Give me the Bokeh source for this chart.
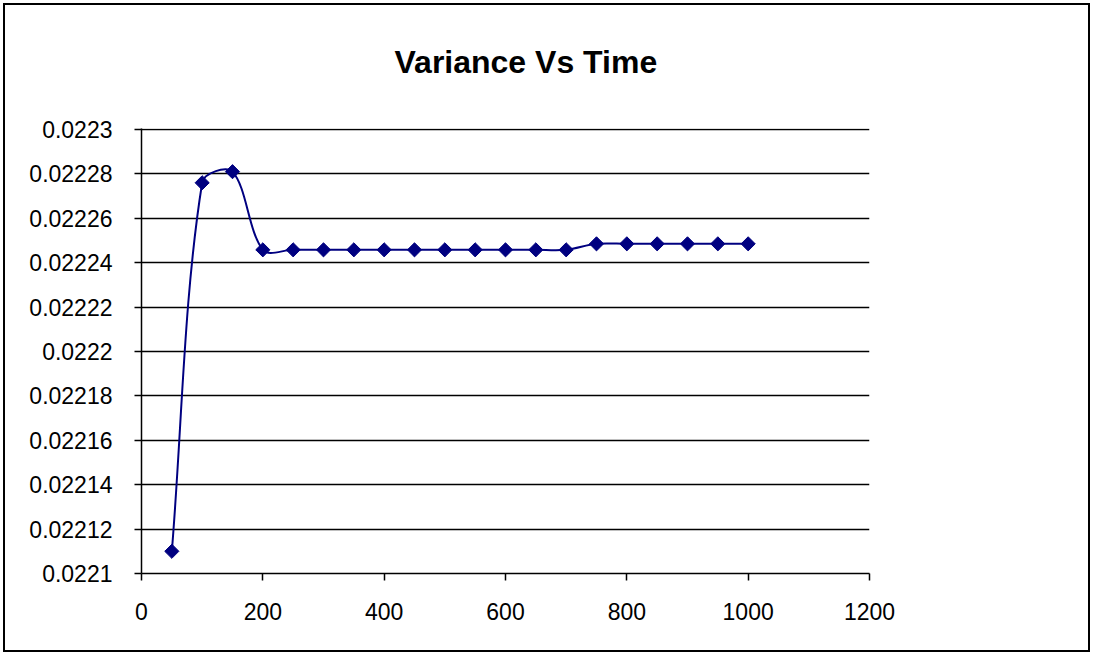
import numpy as np
from bokeh.plotting import figure
from bokeh.models import FixedTicker, Range1d
from bokeh.embed import file_html
from bokeh.resources import INLINE

# Simulation output: variance of the estimate at each time step
time_steps = [50, 100, 150, 200, 250, 300, 350, 400, 450, 500,
              550, 600, 650, 700, 750, 800, 850, 900, 950, 1000]
variance = [0.02211, 0.022276, 0.022281, 0.0222458, 0.0222458, 0.0222458,
            0.0222458, 0.0222458, 0.0222458, 0.0222458, 0.0222458, 0.0222458,
            0.0222458, 0.0222458, 0.0222485, 0.0222485, 0.0222485, 0.0222485,
            0.0222485, 0.0222485]

x_ticks = [0, 200, 400, 600, 800, 1000, 1200]
y_ticks = [0.0221, 0.02212, 0.02214, 0.02216, 0.02218, 0.0222,
           0.02222, 0.02224, 0.02226, 0.02228, 0.0223]
y_labels = ["0.0221", "0.02212", "0.02214", "0.02216", "0.02218", "0.0222",
            "0.02222", "0.02224", "0.02226", "0.02228", "0.0223"]

FONT = "Liberation Sans"
NAVY = "#000080"

W, H = 1087, 649
BL, BR, BT, BB = 136, 223, 123, 81
X_MIN, X_MAX = 0, 1200
Y_MIN, Y_MAX = 0.0221, 0.0223
# one pixel of head room so the top grid line is not cut by the frame
Y_PAD = (Y_MAX - Y_MIN) / (H - BT - BB - 1)

p = figure(width=W, height=H, output_backend="svg", toolbar_location=None,
           x_range=Range1d(X_MIN, X_MAX), y_range=Range1d(Y_MIN, Y_MAX + Y_PAD),
           min_border_left=BL, min_border_right=BR,
           min_border_top=BT, min_border_bottom=BB)
p.styles = {"margin-left": "3px", "margin-top": "3px", "border": "2px solid black"}

p.background_fill_color = "white"
p.border_fill_color = "white"
p.outline_line_color = None

# Title (the trailing empty line lifts the text higher above the frame)
p.title.text = "Variance Vs Time\n"
p.title.text_font = FONT
p.title.text_font_size = "32px"
p.title.text_font_style = "bold"
p.title.text_color = "black"
p.title.align = "left"
p.title.offset = 253
p.title.standoff = 26

# Axes
for ax in (p.xaxis[0], p.yaxis[0]):
    ax.axis_line_color = "black"
    ax.axis_line_width = 1.5
    ax.major_tick_line_color = "black"
    ax.major_tick_line_width = 1.5
    ax.major_tick_out = 7
    ax.major_tick_in = 0
    ax.minor_tick_line_color = None
    ax.major_label_text_font = FONT
    ax.major_label_text_font_size = "23px"
    ax.major_label_text_color = "black"

p.xaxis.ticker = FixedTicker(ticks=x_ticks)
p.xaxis.major_label_standoff = 22
p.yaxis.ticker = FixedTicker(ticks=y_ticks)
p.yaxis.major_label_overrides = dict(zip(y_ticks, y_labels))
p.yaxis.major_label_standoff = 22

p.xgrid.grid_line_color = None
p.ygrid.ticker = FixedTicker(ticks=y_ticks)
p.ygrid.grid_line_color = "black"
p.ygrid.grid_line_width = 1.5

# Smoothed connecting line: Bezier segments whose tangents are weighted
# by on-screen chord lengths (keeps overshoot small next to steep jumps)
sx = (W - BL - BR) / (X_MAX - X_MIN)
sy = (H - BT - BB) / (Y_MAX + Y_PAD - Y_MIN)
x = np.array(time_steps, dtype=float)
y = np.array(variance, dtype=float)
xp = np.concatenate([[x[0]], x, [x[-1]]])
yp = np.concatenate([[y[0]], y, [y[-1]]])
d = np.hypot(np.diff(xp) * sx, np.diff(yp) * sy)  # screen length of each chord

n = len(x)
x0, y0, x1, y1 = [], [], [], []
cx0, cy0, cx1, cy1 = [], [], [], []
for i in range(n - 1):
    a, b, c, e = i, i + 1, i + 2, i + 3  # padded indices: prev, start, end, next
    d_prev, d_seg, d_next = d[a], d[b], d[c]
    f0 = d_seg / (d_prev + d_seg) / 3.0
    f1 = d_seg / (d_seg + d_next) / 3.0
    x0.append(xp[b]); y0.append(yp[b])
    x1.append(xp[c]); y1.append(yp[c])
    cx0.append(xp[b] + (xp[c] - xp[a]) * f0)
    cy0.append(yp[b] + (yp[c] - yp[a]) * f0)
    cx1.append(xp[c] - (xp[e] - xp[b]) * f1)
    cy1.append(yp[c] - (yp[e] - yp[b]) * f1)

p.bezier(x0=x0, y0=y0, x1=x1, y1=y1, cx0=cx0, cy0=cy0, cx1=cx1, cy1=cy1,
         line_color=NAVY, line_width=2)

# Diamond markers
p.scatter(x=time_steps, y=variance, marker="square", size=10, angle=np.pi / 4,
          fill_color=NAVY, line_color=NAVY, line_width=1)

open("out.html", "w").write(file_html(p, INLINE))
